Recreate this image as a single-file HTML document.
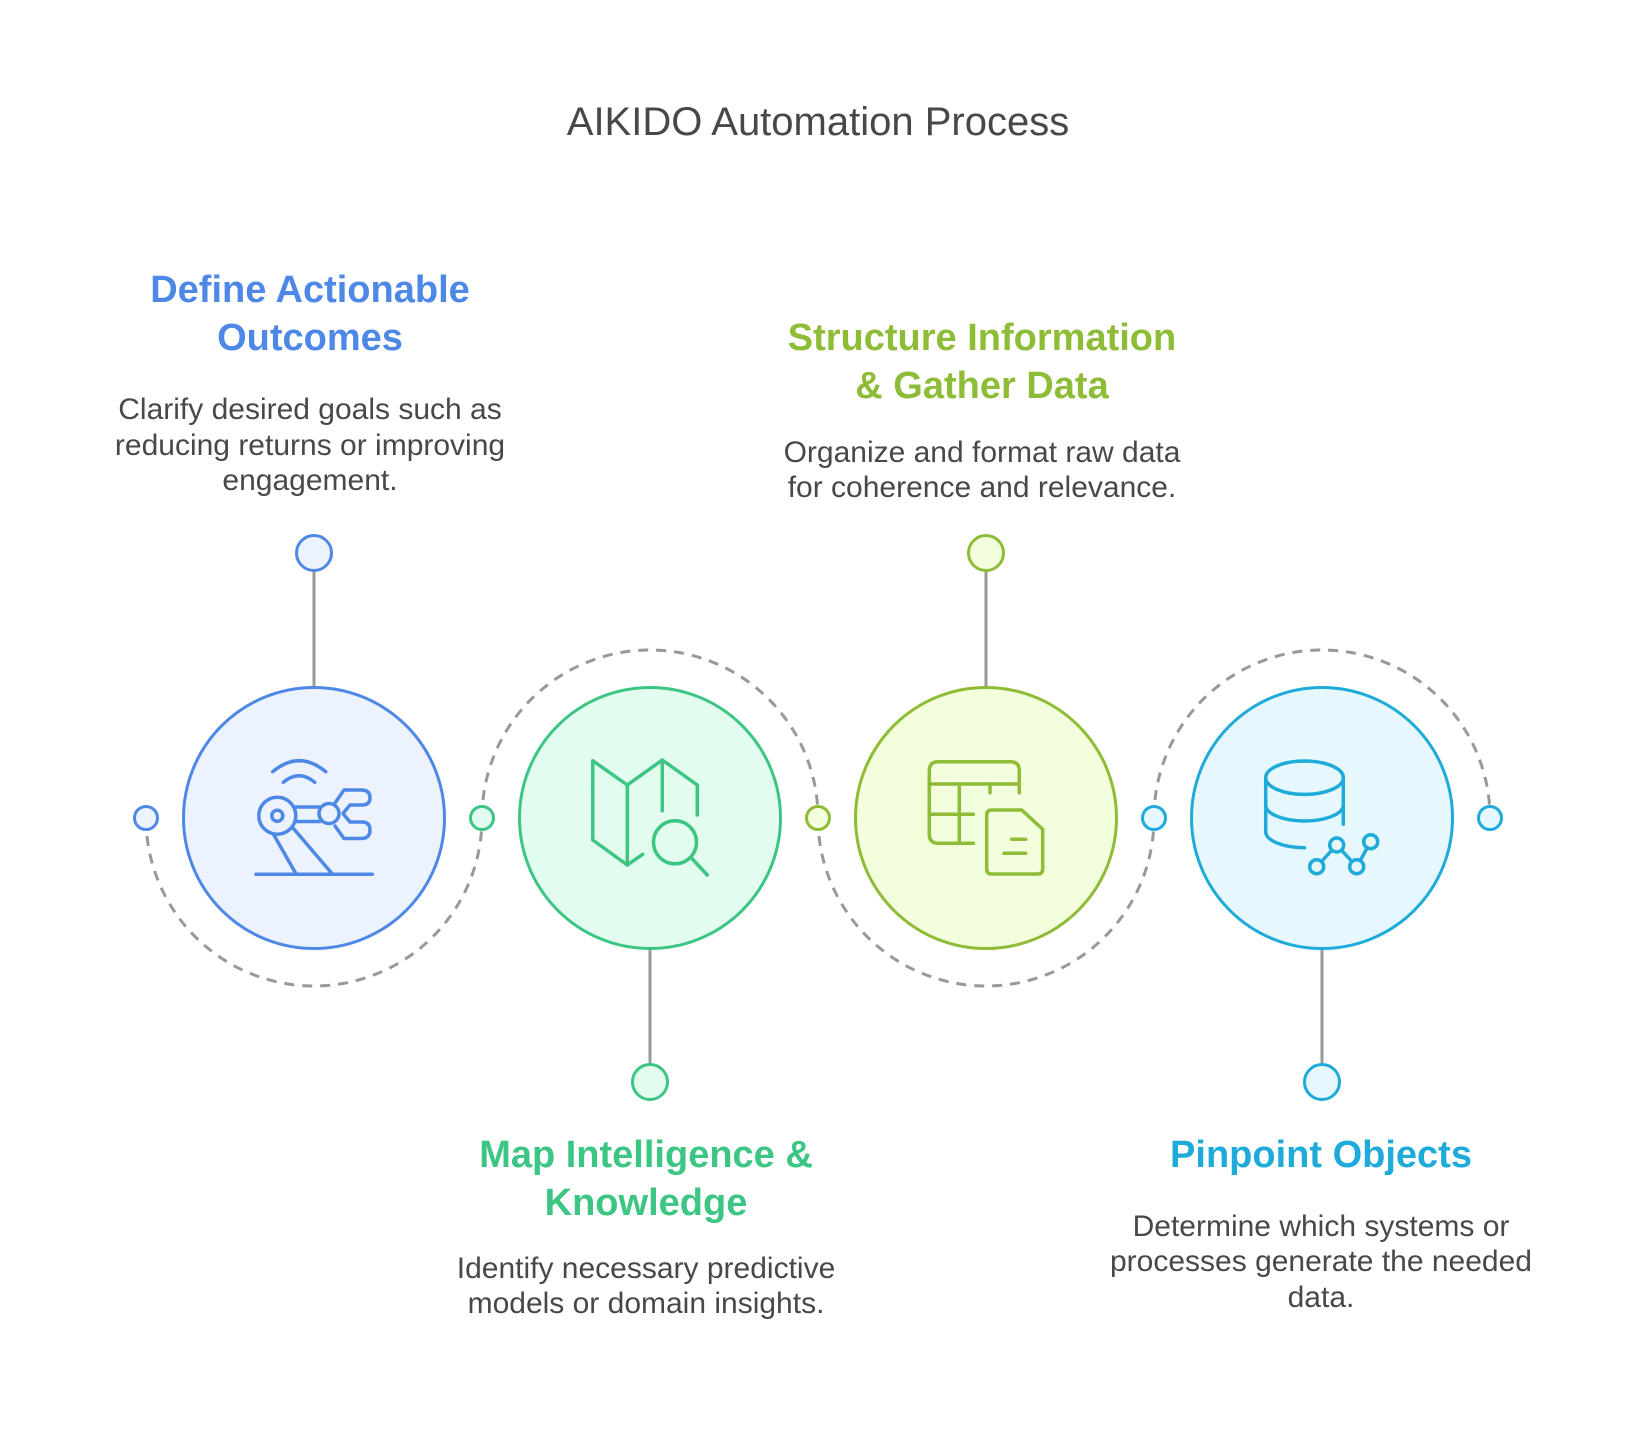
<!DOCTYPE html>
<html>
<head>
<meta charset="utf-8">
<style>
  html, body { margin: 0; padding: 0; background: #ffffff; }
  body { width: 1636px; height: 1444px; overflow: hidden; }
  svg { display: block; }
  .title { font-family: "Liberation Sans", Arial, sans-serif; font-size: 40px; fill: #484848; }
  .head { font-family: "Liberation Sans", Arial, sans-serif; font-size: 38px; font-weight: bold; }
  .body { font-family: "Liberation Sans", Arial, sans-serif; font-size: 30px; fill: #484848; }
</style>
</head>
<body>
<svg width="1636" height="1444" viewBox="0 0 1636 1444" xmlns="http://www.w3.org/2000/svg">
  <rect x="0" y="0" width="1636" height="1444" fill="#ffffff"/>

  <!-- Title -->
  <text class="title" x="818" y="135" text-anchor="middle">AIKIDO Automation Process</text>

  <!-- Dashed arcs -->
  <g fill="none" stroke="#999999" stroke-width="3" stroke-dasharray="10 8">
    <path d="M146,818 A168,168 0 0 0 482,818"/>
    <path d="M482,818 A168,168 0 0 1 818,818"/>
    <path d="M818,818 A168,168 0 0 0 1154,818"/>
    <path d="M1154,818 A168,168 0 0 1 1490,818"/>
  </g>

  <!-- Connector lines -->
  <g stroke="#999999" stroke-width="3">
    <line x1="314" y1="571" x2="314" y2="687"/>
    <line x1="650" y1="949" x2="650" y2="1065"/>
    <line x1="986" y1="571" x2="986" y2="687"/>
    <line x1="1322" y1="949" x2="1322" y2="1065"/>
  </g>

  <!-- Main circles -->
  <circle cx="314" cy="818" r="130.5" fill="#ecf3fe" stroke="#4e88e7" stroke-width="3"/>
  <circle cx="650" cy="818" r="130.5" fill="#e2fcef" stroke="#3cc583" stroke-width="3"/>
  <circle cx="986" cy="818" r="130.5" fill="#f2fedc" stroke="#8fbc36" stroke-width="3"/>
  <circle cx="1322" cy="818" r="130.5" fill="#e7f7fe" stroke="#1eabda" stroke-width="3"/>

  <!-- Top / bottom small circles -->
  <circle cx="314" cy="553" r="17.5" fill="#ecf3fe" stroke="#4e88e7" stroke-width="3"/>
  <circle cx="650" cy="1082" r="17.5" fill="#e2fcef" stroke="#3cc583" stroke-width="3"/>
  <circle cx="986" cy="553" r="17.5" fill="#f2fedc" stroke="#8fbc36" stroke-width="3"/>
  <circle cx="1322" cy="1082" r="17.5" fill="#e7f7fe" stroke="#1eabda" stroke-width="3"/>

  <!-- Side small circles -->
  <circle cx="146" cy="818" r="11.5" fill="#ecf3fe" stroke="#4e88e7" stroke-width="3"/>
  <circle cx="482" cy="818" r="11.5" fill="#e2fcef" stroke="#3cc583" stroke-width="3"/>
  <circle cx="818" cy="818" r="11.5" fill="#f2fedc" stroke="#8fbc36" stroke-width="3"/>
  <circle cx="1154" cy="818" r="11.5" fill="#e7f7fe" stroke="#1eabda" stroke-width="3"/>
  <circle cx="1490" cy="818" r="11.5" fill="#e7f7fe" stroke="#1eabda" stroke-width="3"/>

  <!-- Icon 1: robot arm -->
  <g fill="none" stroke="#4e88e7" stroke-width="3.5" stroke-linecap="round" stroke-linejoin="round">
    <path d="M272.7,771.7 Q299.2,749.7 325.7,771.7"/>
    <path d="M283.3,782.3 Q299,769.1 314.7,782.3"/>
    <circle cx="277.3" cy="815.7" r="18.5"/>
    <circle cx="277.3" cy="815.7" r="5.5"/>
    <line x1="295.5" y1="807" x2="320" y2="807"/>
    <line x1="295.5" y1="821.5" x2="320" y2="821.5"/>
    <circle cx="329" cy="813.5" r="10"/>
    <path d="M335,803 L344,790 L361,790 Q370,790 370,797.5 Q370,805 362,805 L350,805 L343,813.5 L350,822 L362,822 Q370,822 370,830 Q370,838.5 361,838.5 L344,838.5 L335,826"/>
    <line x1="273.3" y1="834" x2="295.7" y2="873.3"/>
    <line x1="293.5" y1="828.5" x2="331.7" y2="873.3"/>
    <line x1="256" y1="874.3" x2="372.3" y2="874.3"/>
  </g>

  <!-- Icon 2: map + magnifier -->
  <g fill="none" stroke="#3cc583" stroke-width="3.5" stroke-linecap="round" stroke-linejoin="round">
    <path d="M642.7,854.3 L627.3,865 L592.7,840 L592.7,760.7 L627.3,785 L662.3,760 L697.3,785 L697.3,815"/>
    <line x1="627.3" y1="785" x2="627.3" y2="865"/>
    <line x1="662.3" y1="760" x2="662.3" y2="810.7"/>
    <circle cx="675" cy="842.3" r="21.5"/>
    <line x1="691.7" y1="858.3" x2="707.3" y2="875"/>
  </g>

  <!-- Icon 3: table + file -->
  <g fill="none" stroke="#8fbc36" stroke-width="3.5" stroke-linecap="round" stroke-linejoin="round">
    <path d="M973.3,843.3 L938.3,843.3 Q929.3,843.3 929.3,834.3 L929.3,770.7 Q929.3,761.7 938.3,761.7 L1010.3,761.7 Q1019.3,761.7 1019.3,770.7 L1019.3,792.7"/>
    <line x1="929.3" y1="784" x2="1019.3" y2="784"/>
    <line x1="959.3" y1="784" x2="959.3" y2="843.3"/>
    <line x1="929.3" y1="814.3" x2="973.3" y2="814.3"/>
    <line x1="990" y1="784" x2="990" y2="792.7"/>
    <path d="M991.7,810 L1021.7,810 L1042.7,829.3 L1042.7,869 Q1042.7,874 1037.7,874 L991.7,874 Q986.7,874 986.7,869 L986.7,815 Q986.7,810 991.7,810 Z"/>
    <line x1="1011.7" y1="839.3" x2="1025.7" y2="839.3"/>
    <line x1="1004" y1="853.3" x2="1025.7" y2="853.3"/>
  </g>

  <!-- Icon 4: database + chart -->
  <g fill="none" stroke="#1eabda" stroke-width="3.5" stroke-linecap="round" stroke-linejoin="round">
    <ellipse cx="1304.5" cy="777.7" rx="38.8" ry="16.7"/>
    <line x1="1265.7" y1="777.7" x2="1265.7" y2="831.7"/>
    <line x1="1343.3" y1="777.7" x2="1343.3" y2="824.3"/>
    <path d="M1265.7,805 A38.8,16 0 0 0 1343.3,805"/>
    <path d="M1265.7,831.7 A38.8,16 0 0 0 1304.5,847.7"/>
    <circle cx="1316.7" cy="866.7" r="7"/>
    <circle cx="1336.7" cy="845" r="7"/>
    <circle cx="1356.7" cy="866.7" r="7"/>
    <circle cx="1370.7" cy="841.7" r="7"/>
    <line x1="1321.5" y1="861.5" x2="1331.9" y2="850.2"/>
    <line x1="1341.5" y1="850.2" x2="1351.9" y2="861.5"/>
    <line x1="1360.2" y1="860.5" x2="1367.2" y2="847.9"/>
  </g>

  <!-- Block 1 -->
  <text class="head" fill="#4e88e7" x="310" y="302" text-anchor="middle">Define Actionable</text>
  <text class="head" fill="#4e88e7" x="310" y="350" text-anchor="middle">Outcomes</text>
  <text class="body" x="310" y="419" text-anchor="middle">Clarify desired goals such as</text>
  <text class="body" x="310" y="455" text-anchor="middle">reducing returns or improving</text>
  <text class="body" x="310" y="490" text-anchor="middle">engagement.</text>

  <!-- Block 3 -->
  <text class="head" fill="#8fbc36" x="982" y="350" text-anchor="middle">Structure Information</text>
  <text class="head" fill="#8fbc36" x="982" y="398" text-anchor="middle">&amp; Gather Data</text>
  <text class="body" x="982" y="462" text-anchor="middle">Organize and format raw data</text>
  <text class="body" x="982" y="497" text-anchor="middle">for coherence and relevance.</text>

  <!-- Block 2 -->
  <text class="head" fill="#3cc583" x="646" y="1167" text-anchor="middle">Map Intelligence &amp;</text>
  <text class="head" fill="#3cc583" x="646" y="1215" text-anchor="middle">Knowledge</text>
  <text class="body" x="646" y="1278" text-anchor="middle">Identify necessary predictive</text>
  <text class="body" x="646" y="1313" text-anchor="middle">models or domain insights.</text>

  <!-- Block 4 -->
  <text class="head" fill="#1eabda" x="1321" y="1167" text-anchor="middle">Pinpoint Objects</text>
  <text class="body" x="1321" y="1236" text-anchor="middle">Determine which systems or</text>
  <text class="body" x="1321" y="1271" text-anchor="middle">processes generate the needed</text>
  <text class="body" x="1321" y="1307" text-anchor="middle">data.</text>
</svg>
</body>
</html>
